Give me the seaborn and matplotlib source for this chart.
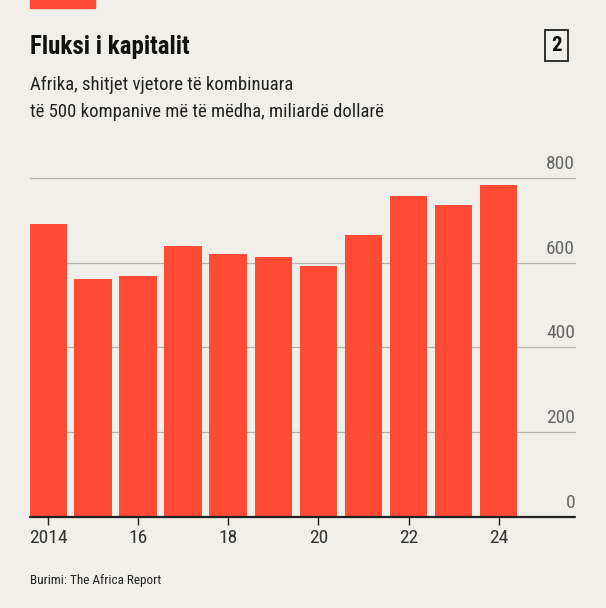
import matplotlib
matplotlib.use("Agg")
import matplotlib.pyplot as plt
import matplotlib.transforms as mtransforms
import seaborn as sns
import pandas as pd

vitet = [2014, 2015, 2016, 2017, 2018, 2019, 2020, 2021, 2022, 2023, 2024]
shitjet = [691, 561, 568, 639, 620, 613, 592, 665, 759, 736, 783]
yticks = [0, 200, 400, 600, 800]

sns.set_theme(style="white")
plt.rcParams['font.family'] = ['Roboto Condensed', 'Liberation Sans Narrow', 'DejaVu Sans']
bg = "#f1efe9"
red = "#ff4b33"

df = pd.DataFrame({"viti": vitet, "shitjet": shitjet})

fig = plt.figure(figsize=(6.06, 6.08), dpi=100, facecolor=bg)
ax = fig.add_axes([0.05, 0.15, 0.899, 0.557], facecolor=bg)
sns.barplot(data=df, x="viti", y="shitjet", color=red, saturation=1, width=0.84,
            linewidth=0, ax=ax, zorder=2)
ax.set_xlim(-0.4, 11.7)
ax.set_ylim(0, 800)
ax.set_xlabel("")
ax.set_ylabel("")
for s in ax.spines.values():
    s.set_visible(False)
ax.set_yticks([])
trans = mtransforms.blended_transform_factory(ax.transAxes, ax.transData)
for v in yticks:
    if v > 0:
        ax.axhline(v, color="#b5b2ad", lw=0.9, zorder=0, clip_on=False)
    ax.text(1.0, v + 12, str(v), transform=trans, ha="right", va="bottom",
            fontsize=14, color="#666666")
ax.axhline(0, color="#222222", lw=1.6, clip_on=False, zorder=3)
pos = list(range(0, 11, 2))
ax.set_xticks(pos)
ax.set_xticklabels([str(vitet[0])] + [str(vitet[i])[2:] for i in pos[1:]])
ax.tick_params(axis="x", length=6, width=1, color="#222222", labelsize=14,
               labelcolor="#333333", bottom=True, pad=3)

fig.patches.append(plt.Rectangle((0.05, 0.987), 0.107, 0.013, transform=fig.transFigure,
                                 color=red, zorder=5))
fig.text(0.05, 0.922, "Fluksi i kapitalit", fontsize=18, fontweight="bold", color="#111111", va="center")
fig.text(0.05, 0.838, "Afrika, shitjet vjetore të kombinuara\ntë 500 kompanive më të mëdha, miliardë dollarë",
         fontsize=13.5, color="#222222", va="center", linespacing=1.6)
fig.text(0.918, 0.925, "2", fontsize=15, fontweight="bold", color="#111111", ha="center", va="center",
         bbox=dict(boxstyle="square,pad=0.3", fc=bg, ec="#222222", lw=1.3))
fig.text(0.05, 0.046, "Burimi: The Africa Report", fontsize=9.5, color="#222222", va="center")

fig.savefig("out.png", dpi=100, facecolor=bg)
